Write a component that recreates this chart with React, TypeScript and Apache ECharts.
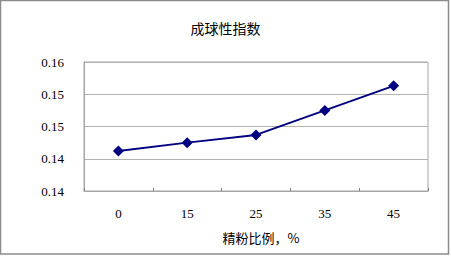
import React, { useEffect, useRef } from "react";
import * as echarts from "echarts";

const titleText = "成球性指数";
const xAxisName = "精粉比例，%";
const categories = ["0", "15", "25", "35", "45"];
const values = [0.1462, 0.1475, 0.1487, 0.1525, 0.1563];
const yTickLabels = ["0.14", "0.14", "0.15", "0.15", "0.16"];

export default function App() {
  const ref = useRef<HTMLDivElement>(null);
  useEffect(() => {
    if (!ref.current) return;
    const chart = echarts.init(ref.current, null, { renderer: "svg" });
    chart.setOption({
      animation: false,
      backgroundColor: "#ffffff",
      title: {
        text: titleText,
        left: "center",
        top: 16,
        textStyle: {
          fontFamily: "Noto Sans CJK SC",
          fontSize: 14,
          fontWeight: "normal",
          color: "#000",
        },
      },
      graphic: [
        {
          type: "rect",
          shape: { x: 0.5, y: 0.5, width: 448, height: 253.5 },
          style: { fill: "none", stroke: "#8c8c8c", lineWidth: 1.5 },
          silent: true,
        },
      ],
      grid: {
        left: 84,
        right: 23,
        top: 62,
        bottom: 66,
        show: true,
        borderColor: "#a6a6a6",
        borderWidth: 1,
        backgroundColor: "transparent",
      },
      xAxis: {
        type: "category",
        data: categories,
        boundaryGap: true,
        name: xAxisName,
        nameLocation: "middle",
        nameGap: 40,
        nameTextStyle: {
          fontFamily: "Noto Sans CJK SC",
          fontSize: 13,
          color: "#000",
          padding: [0, 0, 0, 10],
        },
        axisLine: { show: true, lineStyle: { color: "#a6a6a6", width: 1 } },
        axisTick: {
          show: true,
          inside: true,
          length: 3,
          alignWithLabel: false,
          lineStyle: { color: "#808080" },
        },
        axisLabel: {
          margin: 16,
          fontFamily: "Liberation Serif",
          fontSize: 13,
          color: "#000",
        },
        splitLine: { show: false },
      },
      yAxis: {
        type: "value",
        min: 0.14,
        max: 0.16,
        interval: 0.005,
        axisLine: { show: true, lineStyle: { color: "#a6a6a6" } },
        axisTick: { show: false },
        axisLabel: {
          margin: 20,
          fontFamily: "Liberation Serif",
          fontSize: 13,
          color: "#000",
          formatter: (_v: number, i: number) => yTickLabels[i],
        },
        splitLine: { show: true, lineStyle: { color: "#b3b3b3", width: 1 } },
      },
      series: [
        {
          type: "line",
          data: values,
          symbol: "diamond",
          symbolSize: 11,
          itemStyle: { color: "#000080" },
          lineStyle: { color: "#000080", width: 2 },
        },
      ],
    });
    return () => chart.dispose();
  }, []);
  return (
    <div
      ref={ref}
      style={{ position: "fixed", left: 0, top: 0, width: 451, height: 257 }}
    />
  );
}
